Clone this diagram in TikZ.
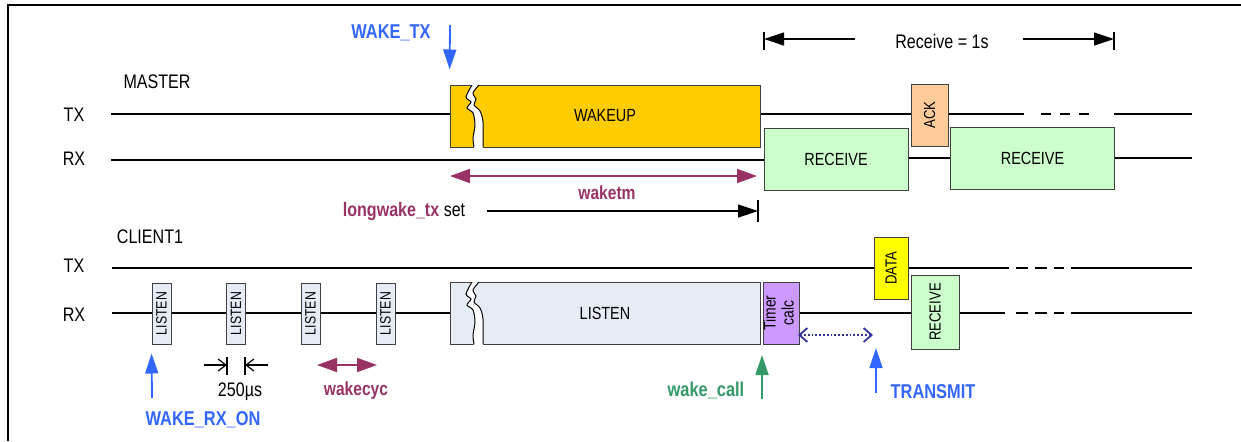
\documentclass[tikz,border=0pt]{standalone}
\usepackage{fontspec}
\setmainfont{Liberation Sans}[FakeStretch=0.82]
\usetikzlibrary{arrows.meta}
\definecolor{wakeblue}{HTML}{3366FF}
\definecolor{wakered}{HTML}{993366}
\definecolor{wakegreen}{HTML}{339966}
\definecolor{dotblue}{HTML}{333399}
\definecolor{wakeyel}{HTML}{FFCC00}
\definecolor{rcvgreen}{HTML}{CCFFCC}
\definecolor{ackorange}{HTML}{FFCC99}
\definecolor{datayel}{HTML}{FFFF00}
\definecolor{lstnblue}{HTML}{E6ECF6}
\definecolor{timerpurple}{HTML}{CC99FF}
\tikzset{
	sig/.style={line width=1pt},
	thinsig/.style={line width=0.6pt},
	box/.style={draw=black!75, line width=0.5pt, inner sep=0pt, minimum height=31pt},
	boxtxt/.style={font=\fontsize{8.8}{10}\selectfont},
	vtxt/.style={font=\fontsize{8}{9}\selectfont},
	dimarrow/.style={line width=0.6pt, -{Triangle[length=10pt,width=6.5pt]}},
	redarrow/.style={line width=1pt, wakered, {Triangle[length=10pt,width=7pt]}-{Triangle[length=10pt,width=7pt]}},
	evarrow/.style={line width=0.9pt, -{Triangle[length=10pt,width=6.5pt]}},
	blabel/.style={font=\fontsize{10}{12}\selectfont\bfseries}
}
\newcommand{\tearmark}[2]{%
	\begin{scope}[shift={(#1,#2)}]
		\fill[white] plot[smooth] coordinates {(22,-1) (16,12) (21,17) (17,23) (23,28) (25,40) (23,53) (24,63)}
			-- plot[smooth] coordinates {(33,63) (33,37) (30,26) (24,20) (26,14) (23,8) (29,-1)} -- cycle;
		\draw[line width=0.5pt] plot[smooth] coordinates {(22,0) (16,12) (21,17) (17,23) (23,28) (25,40) (23,53) (24,62)};
		\draw[line width=0.5pt] plot[smooth] coordinates {(29,0) (23,8) (26,14) (24,20) (30,26) (33,37) (33,62)};
	\end{scope}}

\begin{document}
\begin{tikzpicture}[x=0.5pt,y=-0.5pt,font=\fontsize{9.8}{11}\selectfont]
	\useasboundingbox (0,0) rectangle (1241,441);
	\draw[line width=1.3pt] (8,441) -- (8,5) -- (1241,5);

	% MASTER
	\node (mst) at (157,82) {MASTER};
	\node (mtx) at (74,115) {TX};
	\node (mrx) at (74,159) {RX};
	\node[box, boxtxt, fill=wakeyel, minimum width=155pt] (W) at (605,116) {WAKEUP};
	\tearmark{450}{85}
	\node[box, boxtxt, fill=rcvgreen, minimum width=72pt] (Rc1) at (836,159) {RECEIVE};
	\node[box, vtxt, fill=ackorange, minimum width=18.5pt] (Ack) at (929.5,115) {\rotatebox{90}{ACK}};
	\node[box, boxtxt, fill=rcvgreen, minimum width=82pt] (Rc2) at (1032.5,158) {RECEIVE};

	\coordinate (mtx0) at (111,114);
	\coordinate (mtx1) at (1024,114);
	\coordinate (mtx2) at (1041,114);
	\coordinate (mtx3) at (1089,114);
	\coordinate (mtx4) at (1114,114);
	\coordinate (mtx5) at (1192,114);
	\draw[sig] (mtx0) -- (mtx0 -| W.west);
	\draw[sig] (W.east |- mtx0) -- (Ack.west |- mtx0);
	\draw[sig] (Ack.east |- mtx0) -- (mtx1);
	\draw[sig, dash pattern=on 5pt off 4.5pt] (mtx2) -- (mtx3);
	\draw[sig] (mtx4) -- (mtx5);

	\coordinate (mrx0) at (111,160);
	\coordinate (mrx1) at (1192,158);
	\draw[sig] (mrx0) -- (mrx0 -| Rc1.west);
	\draw[thinsig] (Rc1.east |- mrx1) -- (Rc2.west |- mrx1);
	\draw[sig] (Rc2.east |- mrx1) -- (mrx1);

	% events and times of the master
	\node[blabel, wakeblue] (wtx) at (391,33) {WAKE\_TX};
	\coordinate (wtx0) at (450,25);
	\draw[evarrow, wakeblue, shorten >=7.5pt] (wtx0) -- (W.north west);

	\coordinate (wtm0) at (450,176);
	\coordinate (wtm1) at (757,176);
	\draw[redarrow] (wtm0) -- (wtm1);
	\node[blabel, wakered, font=\fontsize{9.5}{11}\selectfont\bfseries] (wtm) at (607,193) {waketm};

	\node (lwk) at (404,211) {\textcolor{wakered}{\bfseries longwake\_tx} set};
	\coordinate (lwk0) at (487,211);
	\coordinate (lwk1) at (758,211);
	\draw[dimarrow] (lwk0) -- (lwk1);
	\draw[thinsig] ([yshift=5.5pt]lwk1) -- ([yshift=-5.5pt]lwk1);

	\node (rcv) at (942,41) {Receive = 1s};
	\coordinate (rcv0) at (764,39);
	\coordinate (rcv1) at (855,39);
	\coordinate (rcv2) at (1023,39);
	\coordinate (rcv3) at (1114,39);
	\draw[dimarrow] (rcv1) -- (rcv0);
	\draw[dimarrow] (rcv2) -- (rcv3);
	\draw[thinsig] ([yshift=3.5pt]rcv0) -- ([yshift=-5.5pt]rcv0);
	\draw[thinsig] ([yshift=3.5pt]rcv3) -- ([yshift=-5.5pt]rcv3);

	% CLIENT1
	\node (cli) at (150,237) {CLIENT1};
	\node (ctx) at (74,266) {TX};
	\node (crx) at (74,315) {RX};
	\foreach \n/\x in {1/161.5, 2/236, 3/310.5, 4/385.5}
		\node[box, fill=lstnblue, minimum width=9.5pt, minimum height=30.5pt, font=\fontsize{7.5}{8}\selectfont] (L\n) at (\x,313.5) {\rotatebox{90}{LISTEN}};
	\node[box, boxtxt, fill=lstnblue, minimum width=155pt] (Lb) at (605,313) {LISTEN};
	\tearmark{450}{282}
	\node[box, fill=timerpurple, minimum width=17pt] (Tc) at (781,313) {\rotatebox{90}{\fontsize{8.5}{9}\selectfont\begin{tabular}{@{}c@{}}Timer\\calc\end{tabular}}};
	\node[box, vtxt, fill=datayel, minimum width=17pt] (Dt) at (891,268) {\rotatebox{90}{DATA}};
	\node[box, vtxt, fill=rcvgreen, minimum width=24pt, minimum height=37pt] (Rc3) at (935,312) {\rotatebox{90}{RECEIVE}};

	\coordinate (ctx0) at (112,268);
	\coordinate (ctx1) at (1009,268);
	\coordinate (ctx2) at (1016,268);
	\coordinate (ctx3) at (1064,268);
	\coordinate (ctx4) at (1071,268);
	\coordinate (ctx5) at (1192,268);
	\draw[sig] (ctx0) -- (ctx0 -| Dt.west);
	\draw[thinsig] (Dt.east |- ctx0) -- (ctx1);
	\draw[sig, dash pattern=on 6pt off 3.5pt] (ctx2) -- (ctx3);
	\draw[sig] (ctx4) -- (ctx5);

	\coordinate (crx0) at (112,313);
	\coordinate (crx1) at (1005,313);
	\coordinate (crx2) at (1016,313);
	\coordinate (crx3) at (1064,313);
	\coordinate (crx4) at (1071,313);
	\coordinate (crx5) at (1192,313);
	\draw[sig] (crx0) -- (crx0 -| L1.west);
	\draw[sig] (L1.east |- crx0) -- (L2.west |- crx0);
	\draw[sig] (L2.east |- crx0) -- (L3.west |- crx0);
	\draw[sig] (L3.east |- crx0) -- (L4.west |- crx0);
	\draw[sig] (L4.east |- crx0) -- (Lb.west |- crx0);
	\draw[sig] (Tc.east |- crx0) -- (Rc3.west |- crx0);
	\draw[thinsig] (Rc3.east |- crx0) -- (crx1);
	\draw[sig, dash pattern=on 6pt off 3.5pt] (crx2) -- (crx3);
	\draw[sig] (crx4) -- (crx5);

	% events and times of the client
	\coordinate (wrx0) at (152,398);
	\draw[evarrow, wakeblue, shorten >=4.5pt] (wrx0) -- (L1.south west);
	\node[blabel, wakeblue] (wrx) at (203,420) {WAKE\_RX\_ON};

	\coordinate (us0) at (204,365);
	\coordinate (us1) at (227,365);
	\coordinate (us2) at (245,365);
	\coordinate (us3) at (268,365);
	\draw[thinsig, -{Straight Barb[length=4pt,width=6pt]}] (us0) -- (us1);
	\draw[thinsig, -{Straight Barb[length=4pt,width=6pt]}] (us3) -- (us2);
	\draw[thinsig] ([yshift=4pt]us1) -- ([yshift=-5pt]us1);
	\draw[thinsig] ([yshift=4pt]us2) -- ([yshift=-5pt]us2);
	\node (us) at (240,392) {250µs};

	\coordinate (cyc0) at (317,365);
	\coordinate (cyc1) at (377,365);
	\draw[redarrow] (cyc0) -- (cyc1);
	\node[blabel, wakered, font=\fontsize{9.5}{11}\selectfont\bfseries] (cyc) at (356,391) {wakecyc};

	\coordinate (wcl0) at (762,399);
	\coordinate (wcl1) at (762,355);
	\draw[evarrow, wakegreen] (wcl0) -- (wcl1);
	\node[blabel, wakegreen] (wcl) at (706,390) {wake\_call};

	\coordinate (dot0) at (798,335);
	\coordinate (dot1) at (873,335);
	\draw[line width=0.9pt, dotblue, densely dotted, {Straight Barb[length=4pt,width=7pt]}-{Straight Barb[length=4pt,width=7pt]}] (dot0) -- (dot1);

	\coordinate (trm0) at (876,393);
	\coordinate (trm1) at (876,348);
	\draw[evarrow, wakeblue] (trm0) -- (trm1);
	\node[blabel, wakeblue] (trm) at (933,392) {TRANSMIT};
\end{tikzpicture}
\end{document}
